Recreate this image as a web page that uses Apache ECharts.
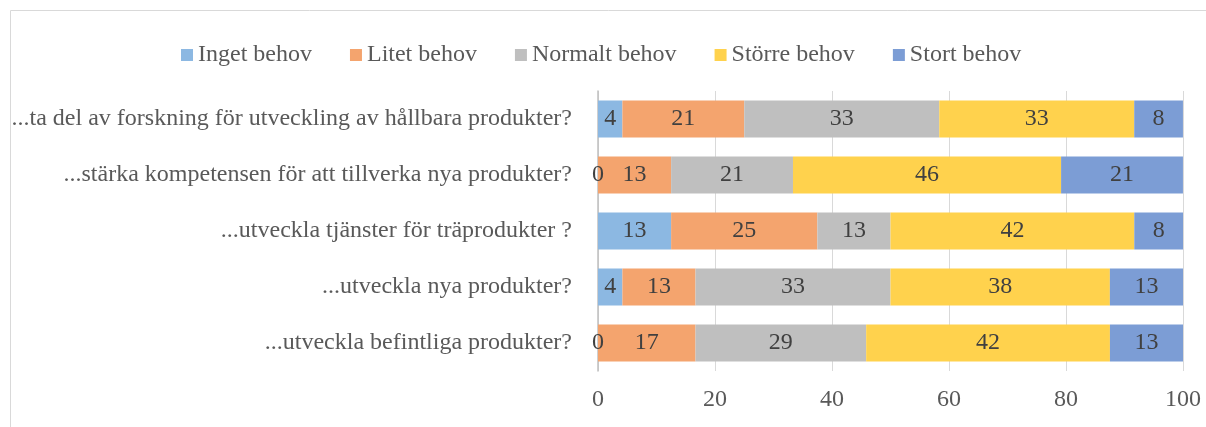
<!DOCTYPE html>
<html>
<head>
<meta charset="utf-8">
<script src="https://cdn.jsdelivr.net/npm/echarts@6/dist/echarts.min.js"></script>
<style>html,body{margin:0;padding:0;background:#fff}#c{width:1206px;height:427px}</style>
</head>
<body>
<div id="c"></div>
<script>
// Categories, top to bottom
const categories = [
  '...ta del av forskning för utveckling av hållbara produkter?',
  '...stärka kompetensen för att tillverka nya produkter?',
  '...utveckla tjänster för träprodukter ?',
  '...utveckla nya produkter?',
  '...utveckla befintliga produkter?'
];
const seriesNames = ['Inget behov', 'Litet behov', 'Normalt behov', 'Större behov', 'Stort behov'];
const ingetBehov   = [4.17, 0,     12.5,  4.17,  0];
const litetBehov   = [20.83, 12.5, 25,    12.5,  16.67];
const normaltBehov = [33.33, 20.83, 12.5, 33.33, 29.17];
const storreBehov  = [33.33, 45.83, 41.67, 37.5, 41.67];
const stortBehov   = [8.33, 20.83, 8.33,  12.5,  12.5];
const xTicks = [0, 20, 40, 60, 80, 100];

const colors = ['#8CB8E2', '#F4A46E', '#BFBFBF', '#FFD24D', '#7C9DD5'];
const values = [ingetBehov, litetBehov, normaltBehov, storreBehov, stortBehov];
const FONT = 'Liberation Serif';

const chart = echarts.init(document.getElementById('c'), null, {renderer: 'canvas'});
chart.setOption({
  animation: false,
  color: colors,
  graphic: [{
    type: 'rect', silent: true, z: -10,
    shape: {x: 10.5, y: 10.5, width: 1400, height: 600},
    style: {fill: 'none', stroke: '#D9D9D9', lineWidth: 1}
  }],
  legend: {
    top: 38, left: 176,
    itemWidth: 12, itemHeight: 12, itemGap: 38,
    icon: 'rect',
    textStyle: {fontFamily: FONT, fontSize: 24, color: '#595959'},
    data: seriesNames
  },
  grid: {left: 598, right: 23, top: 91, bottom: 56, containLabel: false},
  xAxis: {
    type: 'value', min: 0, max: 100, interval: 20,
    axisLine: {show: false}, axisTick: {show: false},
    splitLine: {show: true, lineStyle: {color: '#D9D9D9', width: 1}},
    axisLabel: {fontFamily: FONT, fontSize: 24, color: '#595959', margin: 17,
      formatter: v => xTicks.includes(v) ? String(v) : ''}
  },
  yAxis: {
    type: 'category', inverse: true, data: categories,
    axisLine: {show: true, lineStyle: {color: '#BFBFBF', width: 1.5}},
    axisTick: {show: false},
    axisLabel: {fontFamily: FONT, fontSize: 24, color: '#595959', margin: 26}
  },
  series: seriesNames.map((name, i) => ({
    name, type: 'bar', stack: 'total',
    barCategoryGap: '34%',
    data: values[i],
    itemStyle: {color: colors[i]},
    label: {
      show: true, position: 'inside',
      fontFamily: FONT, fontSize: 24, color: '#404040',
      formatter: p => String(Math.round(p.value))
    }
  }))
});
</script>
</body>
</html>
